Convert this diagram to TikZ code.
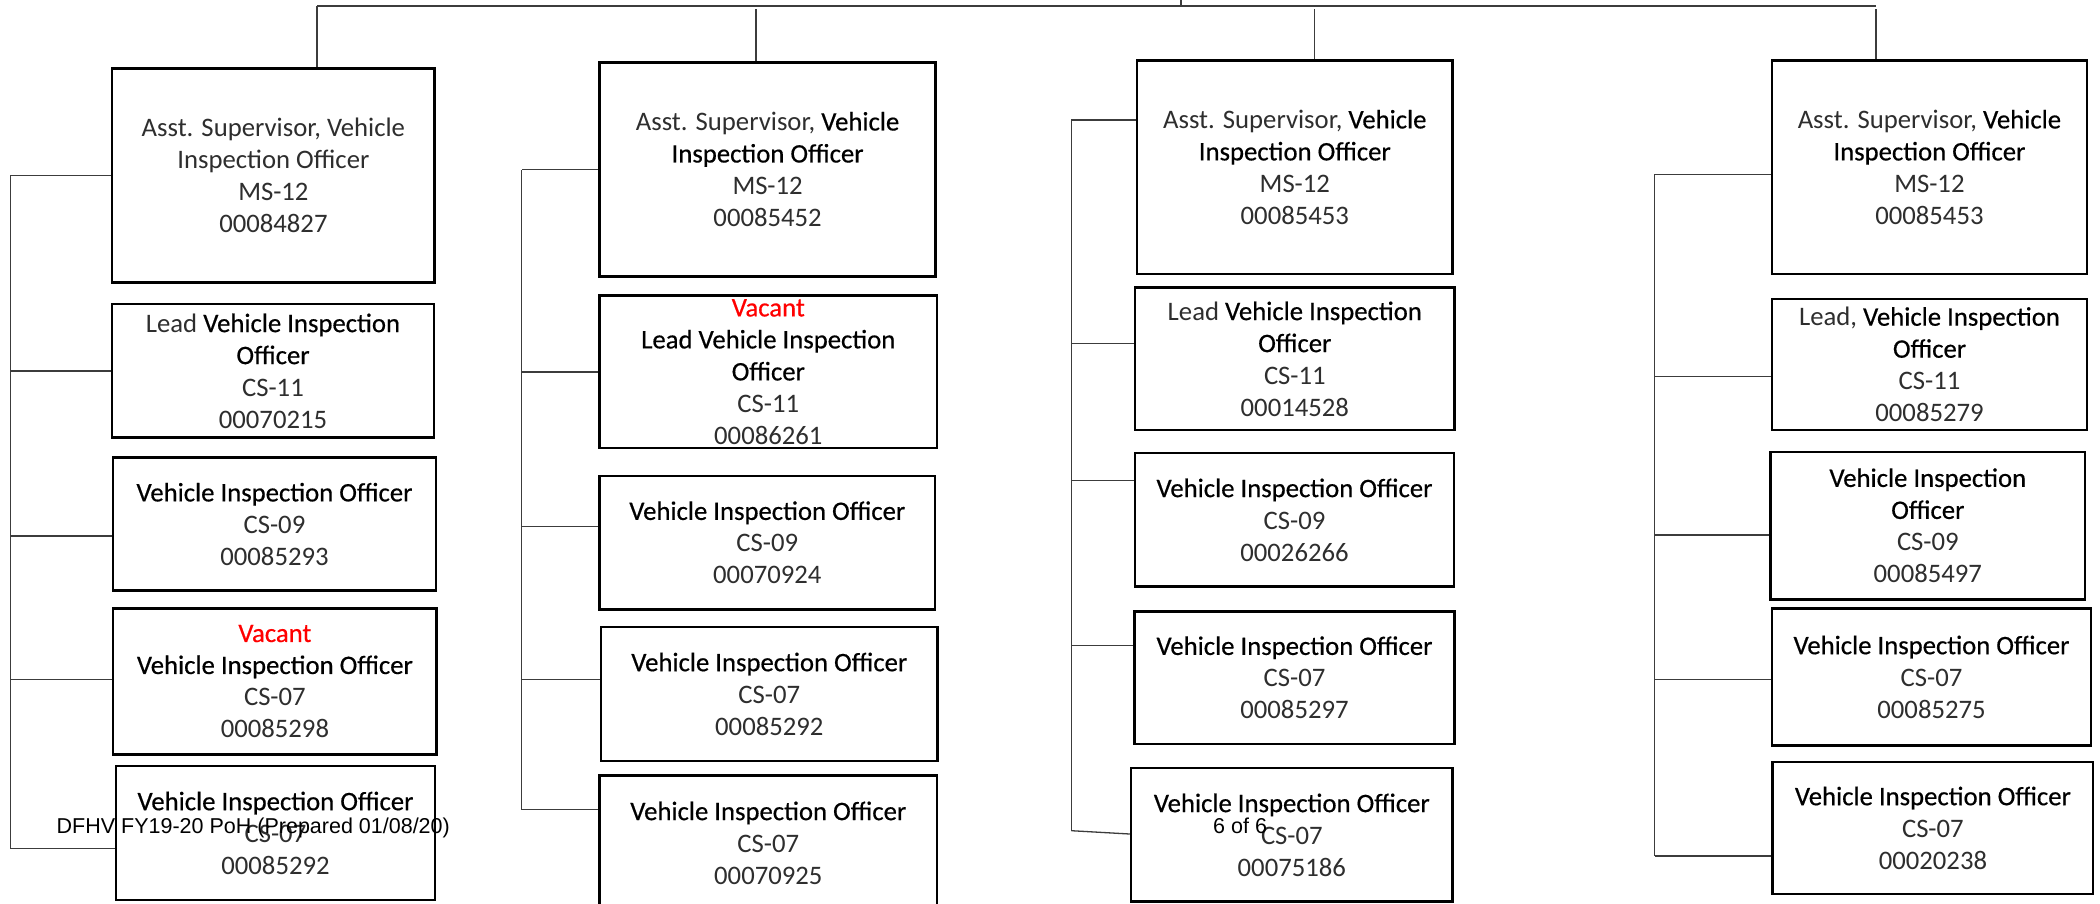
\documentclass[tikz,border=0pt]{standalone}
\usepackage{fontspec}
\setmainfont{Carlito}
\newfontfamily\footfont{Liberation Sans}
\newfontfamily\strongfont{Carlito}[FakeBold=0.5]
\newcommand\rg[1]{{\color{black}\strongfont #1}}
\definecolor{vacred}{RGB}{255,0,0}
\definecolor{linkgray}{RGB}{60,60,60}
\newcommand\vac{\rg{\textcolor{vacred}{Vacant}}}
% horizontal tie from a box (shifted by #2) back to its column bus #3
\newcommand\tieto[3]{\draw[link] ([yshift=#2]#1.west) -- ([yshift=#2]#1.west -| #3);}

\begin{document}
\begin{tikzpicture}[x=1pt, y=-1pt,
  post/.style={draw=black, line width=2.6pt, inner sep=0pt, align=center,
    text=black!82, font=\fontsize{26.7}{32}\selectfont},
  link/.style={draw=linkgray, line width=1.3pt},
  foot/.style={inner sep=0pt, anchor=base west, text=black, font=\footfont\fontsize{21.5}{24}\selectfont}]
\useasboundingbox (0,0) rectangle (2100,903);
\fill[white] (0,0) rectangle (2100,903);
\clip (0,0) rectangle (2100,903);

% ---- column A
\node[post, minimum width=322.7pt, minimum height=214pt] (a1) at (273.4,175.3)
  {Asst. Supervisor, Vehicle\\Inspection Officer\\MS-12\\00084827};
\node[post, minimum width=322pt, minimum height=133.7pt] (a2) at (273,370.9)
  {Lead \rg{Vehicle Inspection}\\\rg{Officer}\\CS-11\\00070215};
\node[post, minimum width=323pt, minimum height=133pt] (a3) at (274.5,524.2)
  {\rg{Vehicle Inspection Officer}\\CS-09\\00085293};
\node[post, minimum width=323.7pt, minimum height=146.4pt] (a4) at (274.9,681.5)
  {\vac\\\rg{Vehicle Inspection Officer}\\CS-07\\00085298};
\node[post, minimum width=319pt, minimum height=134pt] (a5) at (275.5,833)
  {\rg{Vehicle Inspection Officer}\\CS-07\\00085292};

% ---- column B
\node[post, minimum width=336.2pt, minimum height=214pt] (b1) at (767.6,169.3)
  {Asst. Supervisor, \rg{Vehicle}\\\rg{Inspection Officer}\\MS-12\\00085452};
\node[post, minimum width=337.5pt, minimum height=152.3pt] (b2) at (768.3,371.9)
  {\vac\\\rg{Lead Vehicle Inspection}\\\rg{Officer}\\CS-11\\00086261};
\node[post, minimum width=335.5pt, minimum height=133.3pt] (b3) at (767.3,542.7)
  {\rg{Vehicle Inspection Officer}\\CS-09\\00070924};
\node[post, minimum width=336.9pt, minimum height=134pt] (b4) at (769.3,694)
  {\rg{Vehicle Inspection Officer}\\CS-07\\00085292};
\node[post, minimum width=337.5pt, minimum height=134.3pt] (b5) at (768.3,842.9)
  {\rg{Vehicle Inspection Officer}\\CS-07\\00070925};

% ---- column C
\node[post, minimum width=315.5pt, minimum height=213.7pt] (c1) at (1294.8,167.2)
  {Asst. Supervisor, \rg{Vehicle}\\\rg{Inspection Officer}\\MS-12\\00085453};
\node[post, minimum width=319.5pt, minimum height=142.3pt] (c2) at (1294.8,358.9)
  {Lead \rg{Vehicle Inspection}\\\rg{Officer}\\CS-11\\00014528};
\node[post, minimum width=319pt, minimum height=133.7pt] (c3) at (1294.5,519.9)
  {\rg{Vehicle Inspection Officer}\\CS-09\\00026266};
\node[post, minimum width=320pt, minimum height=132.7pt] (c4) at (1294.5,677.7)
  {\rg{Vehicle Inspection Officer}\\CS-07\\00085297};
\node[post, minimum width=321.5pt, minimum height=133.7pt] (c5) at (1291.8,834.9)
  {\rg{Vehicle Inspection Officer}\\CS-07\\00075186};

% ---- column D
\node[post, minimum width=314.8pt, minimum height=213.7pt] (d1) at (1929.4,167.2)
  {Asst. Supervisor, \rg{Vehicle}\\\rg{Inspection Officer}\\MS-12\\00085453};
\node[post, minimum width=315pt, minimum height=131pt] (d2) at (1929.5,364.5)
  {Lead, \rg{Vehicle Inspection}\\\rg{Officer}\\CS-11\\00085279};
\node[post, minimum width=314.1pt, minimum height=147.3pt] (d3) at (1927.8,525.7)
  {\rg{Vehicle Inspection}\\\rg{Officer}\\CS-09\\00085497};
\node[post, minimum width=319pt, minimum height=137.4pt] (d4) at (1931.5,677)
  {\rg{Vehicle Inspection Officer}\\CS-07\\00085275};
\node[post, minimum width=320.3pt, minimum height=132pt] (d5) at (1932.9,828)
  {\rg{Vehicle Inspection Officer}\\CS-07\\00020238};

% ---- top bar and drops to the four supervisors
\coordinate (parent) at (1181,0);
\coordinate (topL) at (317,6);
\coordinate (topR) at (1876,6);
\coordinate (dropB) at (756,9);
\coordinate (dropC) at (1314.6,9);
\coordinate (dropD) at (1876,9);
\draw[link] (parent) -- (parent |- topL);
\draw[link, line width=1.6pt] (topL) -- (topR);
\draw[link] (topL) -- (topL |- a1.north);
\draw[link] (dropB) -- (dropB |- b1.north);
\draw[link] (dropC) -- (dropC |- c1.north);
\draw[link] (dropD) -- (dropD |- d1.north);

% ---- column buses
\coordinate (busA) at (10.7,175.3);   \coordinate (busAend) at (10.7,848.7);
\coordinate (busB) at (521.8,170);    \coordinate (busBend) at (521.8,809.7);
\coordinate (busC) at (1071.4,120);   \coordinate (busCend) at (1071.4,830.7);
\coordinate (busD) at (1654.8,174.3); \coordinate (busDend) at (1654.8,856);
\draw[link] (busA) -- (busAend);
\draw[link] (busB) -- (busBend);
\draw[link] (busC) -- (busCend);
\draw[link] (busD) -- (busDend);

\tieto{a1}{0pt}{busA}
\tieto{a2}{0pt}{busA}
\tieto{a3}{-11.8pt}{busA}
\tieto{a4}{1.8pt}{busA}
\tieto{a5}{-15.7pt}{busA}

\tieto{b1}{0pt}{busB}
\tieto{b2}{0pt}{busB}
\tieto{b3}{16.4pt}{busB}
\tieto{b4}{14.3pt}{busB}
\tieto{b5}{33.2pt}{busB}

\tieto{c1}{47.2pt}{busC}
\tieto{c2}{15.6pt}{busC}
\tieto{c3}{39.2pt}{busC}
\tieto{c4}{32pt}{busC}
\draw[link] (busCend) -- ([yshift=0.9pt]c5.west);

\tieto{d1}{-7.1pt}{busD}
\tieto{d2}{-12.2pt}{busD}
\tieto{d3}{-9.3pt}{busD}
\tieto{d4}{-2.7pt}{busD}
\tieto{d5}{-28pt}{busD}

% ---- page footer
\node[foot] (footer) at (56.5,833) {DFHV FY19-20 PoH (Prepared 01/08/20)};
\node[foot] (pageno) at (1213,833) {6 of 6};
\end{tikzpicture}
\end{document}
